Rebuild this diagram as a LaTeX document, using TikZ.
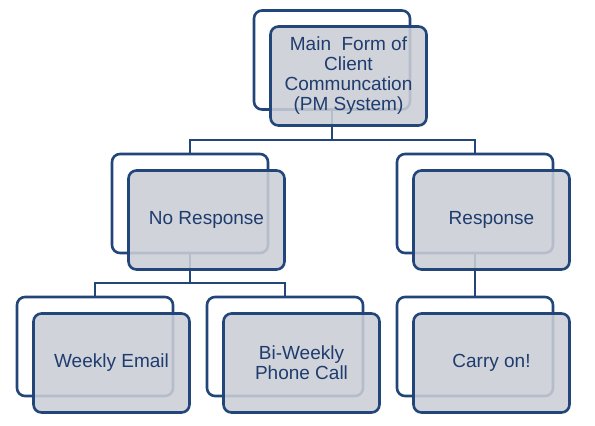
\documentclass[tikz,border=0pt]{standalone}
\usepackage{fontspec}
\setmainfont{Liberation Sans}
\definecolor{lineblue}{RGB}{34,70,122}
\definecolor{textblue}{RGB}{30,60,110}
\definecolor{boxgrey}{RGB}{203,206,214}
\begin{document}
\begin{tikzpicture}[x=1bp,y=-1bp,
  backbox/.style={draw=lineblue,line width=2.6bp,rounded corners=8bp,fill=white,
    minimum width=156bp,minimum height=99bp,inner sep=0pt},
  frontbox/.style={draw=lineblue,line width=2.6bp,rounded corners=8bp,fill=boxgrey,fill opacity=0.88,text opacity=1,
    minimum width=156bp,minimum height=99bp,inner sep=0pt,text=textblue,align=center,
    font=\fontsize{19bp}{20bp}\selectfont},
  conn/.style={draw=lineblue,line width=2.6bp}]
\useasboundingbox (0,0) rectangle (595,425);
% back boxes
\node[backbox] (b0) at (332,60) {};
\node[backbox] (b1) at (190,203.5) {};
\node[backbox] (b2) at (475,203.5) {};
\node[backbox] (b3) at (95,346.5) {};
\node[backbox] (b4) at (285,346.5) {};
\node[backbox] (b5) at (475,346.5) {};
% junctions
\coordinate (j0) at (332,140);
\coordinate (j1) at (190,283);
% connectors
\draw[conn] (b0.south) -- (j0);
\draw[conn] (b1.north) |- (j0) -| (b2.north);
\draw[conn] (b1.south) -- (j1);
\draw[conn] (b3.north) |- (j1) -| (b4.north);
\draw[conn] (b2.south) -- (b5.north);
% front boxes
\node[frontbox] (f0) at (348.5,76) {Main\ \ Form of\\Client\\Communcation\\(PM System)};
\node[frontbox] (f1) at (206.5,220) {No Response};
\node[frontbox] (f2) at (491.5,220) {Response};
\node[frontbox] (f3) at (111.5,363) {Weekly Email};
\node[frontbox] (f4) at (301.5,363) {Bi-Weekly\\Phone Call};
\node[frontbox] (f5) at (491.5,363) {Carry on!};
\end{tikzpicture}
\end{document}
